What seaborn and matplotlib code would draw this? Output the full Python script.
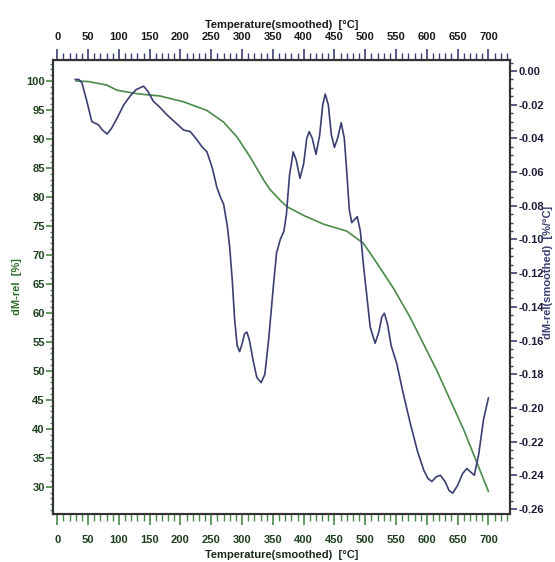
#!/usr/bin/env python3
import numpy as np
import matplotlib.pyplot as plt
import seaborn as sns
import pandas as pd
from matplotlib.ticker import MultipleLocator, FormatStrFormatter

# TG curve (left axis, %)
tg_temp = [30, 50, 80, 97, 129, 167, 205, 243, 270, 292, 313, 335, 346, 362, 373,
           400, 432, 470, 497, 520, 546, 573, 616, 660, 700]
tg_mass = [100.0, 99.9, 99.3, 98.4, 97.8, 97.4, 96.4, 94.9, 92.9, 90.3, 86.9, 82.9, 81.2, 79.4, 78.3,
           76.8, 75.3, 74.1, 72.0, 68.4, 64.2, 59.2, 50.1, 39.8, 29.2]

# DTG curve (right axis, %/°C)
dtg_temp = [29, 35, 40, 48, 56, 67, 73, 81, 88, 97, 108, 118, 128, 140, 147, 156, 165, 178,
            190, 205, 216, 225, 235, 243, 252, 259, 265, 270, 276, 280, 284, 288, 292, 296,
            300, 304, 308, 312, 318, 324, 331, 337, 343, 351, 356, 362, 368, 372, 377, 383,
            388, 394, 400, 405, 409, 414, 420, 426, 431, 435, 440, 445, 450, 455, 461, 466,
            470, 474, 478, 483, 487, 492, 497, 503, 508, 516, 522, 527, 531, 536, 542, 551,
            562, 573, 585, 595, 602, 608, 615, 622, 630, 636, 642, 650, 658, 665, 671, 677,
            684, 692, 700]
dtg_rate = [-0.005, -0.005, -0.007, -0.018, -0.030, -0.032, -0.035, -0.0374, -0.034, -0.028,
            -0.020, -0.015, -0.011, -0.009, -0.012, -0.018, -0.021, -0.026, -0.030, -0.035,
            -0.036, -0.040, -0.045, -0.048, -0.058, -0.069, -0.075, -0.079, -0.092, -0.105,
            -0.124, -0.148, -0.163, -0.1666, -0.162, -0.156, -0.155, -0.160, -0.172, -0.182,
            -0.185, -0.180, -0.160, -0.127, -0.108, -0.100, -0.095, -0.085, -0.062, -0.048,
            -0.053, -0.0637, -0.055, -0.040, -0.036, -0.040, -0.0495, -0.038, -0.020, -0.0137,
            -0.020, -0.038, -0.0453, -0.040, -0.0307, -0.040, -0.060, -0.082, -0.090, -0.088,
            -0.0865, -0.095, -0.115, -0.135, -0.152, -0.1616, -0.155, -0.146, -0.1438, -0.150,
            -0.163, -0.1735, -0.192, -0.209, -0.226, -0.237, -0.242, -0.2437, -0.241, -0.240,
            -0.244, -0.249, -0.2506, -0.246, -0.239, -0.236, -0.238, -0.240, -0.228, -0.207,
            -0.194]

green = '#4a8a4a'
navy = '#3a3e72'
dkgreen = '#1e401e'
dknavy = '#1c1c3a'

sns.set_style('white')
plt.rcParams['font.family'] = ['Liberation Sans', 'DejaVu Sans']
plt.rcParams['font.weight'] = 'bold'
fsize = 8

fig = plt.figure(figsize=(5.55, 5.62), dpi=100)
ax = fig.add_axes([0.0955, 0.0854, 0.8234, 0.8077])

df_tg = pd.DataFrame({'T': tg_temp, 'm': tg_mass})
df_dtg = pd.DataFrame({'T': dtg_temp, 'r': dtg_rate})

sns.lineplot(data=df_tg, x='T', y='m', ax=ax, color=green, lw=1.2)
ax2 = ax.twinx()
sns.lineplot(data=df_dtg, x='T', y='r', ax=ax2, color=navy, lw=1.2)

for s in ['left', 'right', 'top', 'bottom']:
    ax.spines[s].set_color('#333333')
    ax.spines[s].set_linewidth(1.5)
    ax2.spines[s].set_color('#333333')
    ax2.spines[s].set_linewidth(1.5)

# bottom x-axis
ax.set_xticks(np.arange(0, 701, 50))
ax.xaxis.set_minor_locator(MultipleLocator(10))
ax.tick_params(axis='x', which='both', bottom=True)
ax.tick_params(axis='x', which='major', direction='out', length=8, width=1.2, color=green,
               labelsize=fsize, labelcolor=dkgreen, pad=7)
ax.tick_params(axis='x', which='minor', direction='out', length=5, width=1.0, color=green)

# left y-axis
ax.set_yticks(np.arange(30, 101, 5))
ax.yaxis.set_minor_locator(MultipleLocator(1))
ax.tick_params(axis='y', which='both', left=True)
ax.tick_params(axis='y', which='major', direction='out', length=5, width=1.2, color=green,
               labelsize=fsize, labelcolor=dkgreen, pad=1)
ax.tick_params(axis='y', which='minor', direction='out', length=2.5, width=1.0, color=green)

# right y-axis
ax2.yaxis.set_major_locator(MultipleLocator(0.02))
ax2.yaxis.set_minor_locator(MultipleLocator(0.005))
ax2.yaxis.set_major_formatter(FormatStrFormatter('%.2f'))
ax2.tick_params(axis='y', which='both', right=True)
ax2.tick_params(axis='y', which='major', direction='out', length=5, width=1.2, color=navy,
                labelsize=fsize, labelcolor=dknavy, pad=1)
ax2.tick_params(axis='y', which='minor', direction='out', length=2.5, width=1.0, color=navy)

ax.set_xlim(-7, 735)
ax.set_ylim(25.3, 103.6)
ax2.set_ylim(-0.263, 0.0065)

# top x-axis
top = ax.secondary_xaxis('top')
top.set_xticks(np.arange(0, 701, 50))
top.xaxis.set_minor_locator(MultipleLocator(10))
top.tick_params(axis='x', which='major', direction='out', length=8, width=1.2, color=navy,
                labelsize=fsize, labelcolor='#1a1a1a', pad=5)
top.tick_params(axis='x', which='minor', direction='out', length=5, width=1.0, color=navy)

# labels
ax.set_xlabel('Temperature(smoothed)  [°C]', fontsize=8, color='#1a2a1a', fontweight='bold')
ax.xaxis.label.set_va('center')
ax.xaxis.set_label_coords(0.5, -0.09)
top.set_xlabel('Temperature(smoothed)  [°C]', fontsize=8, color='#1a1a1a', fontweight='bold',
               labelpad=3)
ax.set_ylabel('dM-rel  [%]', fontsize=8, color='#2e6e2e', fontweight='bold')
ax.yaxis.label.set_va('center')
ax.yaxis.set_label_coords(-0.079, 0.5)
ax2.set_ylabel('dM-rel(smoothed)  [%/°C]', fontsize=8, color=navy, fontweight='bold')
ax2.yaxis.label.set_va('center')
ax2.yaxis.set_label_coords(1.083, 0.533)

plt.savefig('out.png', dpi=100)
